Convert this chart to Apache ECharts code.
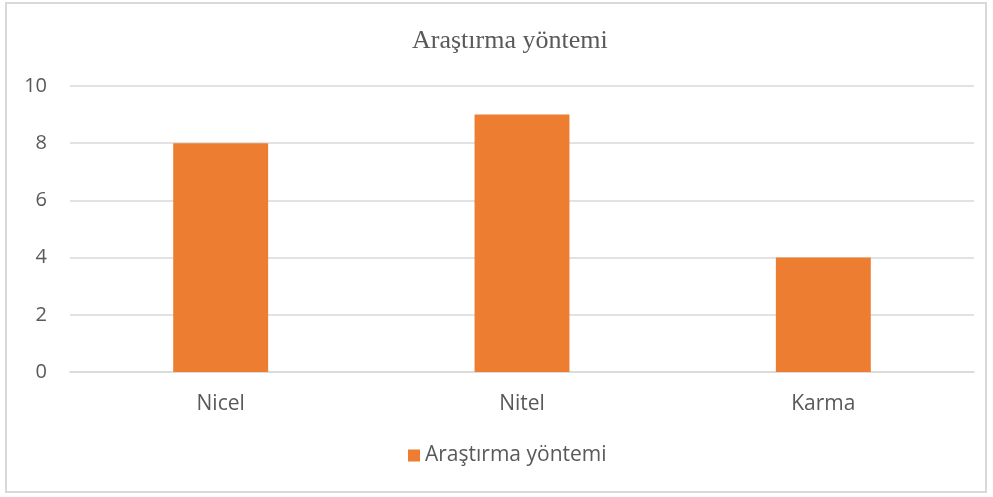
<!DOCTYPE html>
<html>
<head>
	<meta charset="utf-8">
	<title>Araştırma yöntemi</title>
	<script src="https://cdn.jsdelivr.net/npm/echarts@6/dist/echarts.min.js"></script>
	<style type="text/css">
		html, body { margin: 0; padding: 0; background: #fff; }
		.frame {
			position: absolute; left: 5px; top: 2px;
			width: 982px; height: 491px;
			border: 2px solid #d9d9d9; box-sizing: border-box;
		}
		#chart { position: absolute; left: 0; top: 0; width: 993px; height: 497px; }
	</style>
</head>
<body>
<div class="frame"></div>
<div id="chart"></div>
<script type="text/javascript">

	// chart data
	var categories = ['Nicel', 'Nitel', 'Karma'];
	var values = [8, 9, 4];
	var seriesName = 'Araştırma yöntemi';
	var titleText = 'Araştırma yöntemi';

	var myChart = echarts.init(document.getElementById('chart'));
	var option = {
		animation: false,
		title: {
			text: titleText,
			left: 407,
			top: 23,
			textStyle: {
				fontFamily: 'Liberation Serif',
				fontSize: 26,
				fontWeight: 'normal',
				color: '#595959'
			}
		},
		legend: {
			data: [seriesName],
			bottom: 26,
			left: 403,
			itemWidth: 12,
			itemHeight: 12,
			itemGap: 6,
			icon: 'rect',
			textStyle: {
				fontFamily: 'Open Sans',
				fontSize: 21,
				color: '#595959'
			}
		},
		grid: {
			left: 70,
			right: 19,
			top: 86,
			bottom: 125,
			containLabel: false
		},
		xAxis: {
			type: 'category',
			data: categories,
			axisLine: { show: true, lineStyle: { color: '#d9d9d9', width: 1.5 } },
			axisTick: { show: false },
			axisLabel: {
				margin: 22,
				fontFamily: 'Open Sans',
				fontSize: 21,
				color: '#595959'
			}
		},
		yAxis: {
			type: 'value',
			min: 0,
			max: 10,
			interval: 2,
			axisLine: { show: false },
			axisTick: { show: false },
			splitLine: { lineStyle: { color: '#d9d9d9', width: 1.5 } },
			axisLabel: {
				margin: 23,
				fontFamily: 'Open Sans',
				fontSize: 20,
				color: '#595959'
			}
		},
		series: [{
			name: seriesName,
			type: 'bar',
			data: values,
			barWidth: '31.5%',
			itemStyle: { color: '#ed7d31' }
		}]
	};
	myChart.setOption(option);

	window.onresize = function() {
		myChart.resize();
	};

</script>
</body>
</html>
